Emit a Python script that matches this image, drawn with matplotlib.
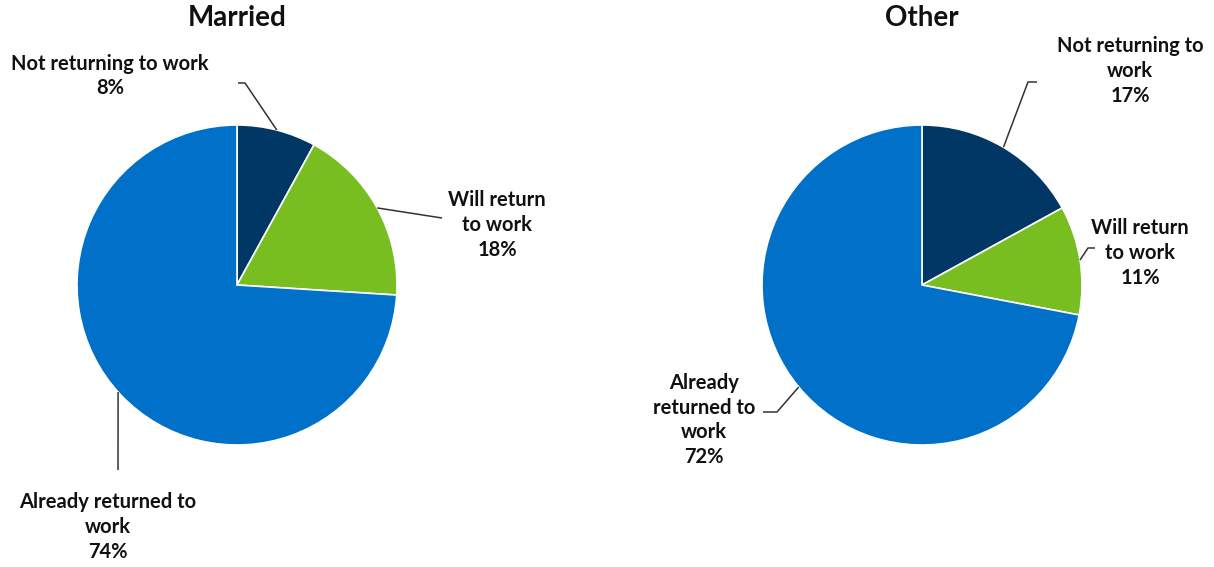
import numpy as np
import matplotlib.pyplot as plt

plt.rcParams['font.family'] = ['Lato', 'DejaVu Sans']

categories = ['Not returning to work', 'Will return to work', 'Already returned to work']
married = [8, 18, 74]
other = [17, 11, 72]
colors = ['#003764', '#78BE21', '#0070C9']

# label text (wrapped as in the chart) and percent appended from the values
married_labels = ['Not returning to work', 'Will return\nto work', 'Already returned to\nwork']
other_labels = ['Not returning to\nwork', 'Will return\nto work', 'Already\nreturned to\nwork']

W, H = 1214, 567
R = 160

fig = plt.figure(figsize=(W / 100, H / 100), dpi=100)
ax = fig.add_axes([0, 0, 1, 1])


def px(x, y):
    # pixel-style coords (y down) -> axes data coords (y up)
    return x, H - y


def wedge_point(values, i, cx, cy, angle=None):
    if angle is None:
        start = 90 - 360 * sum(values[:i]) / 100
        angle = start - 360 * values[i] / 200
    a = np.deg2rad(angle)
    return cx + R * np.cos(a), cy + R * np.sin(a)


def draw_pie(title, values, labels, cx, cy, layout):
    ax.pie(values, colors=colors, startangle=90, counterclock=False,
           center=px(cx, cy), radius=R,
           wedgeprops=dict(edgecolor='white', linewidth=1.2))
    ax.text(*px(cx, 18), title, ha='center', va='center',
            fontsize=20, fontweight='bold', color='#111111')
    for i, (lab, v) in enumerate(zip(labels, values)):
        tpos, knees, ang = layout[i]
        ax.text(*px(*tpos), f'{lab}\n{v}%', ha='center', va='center',
                multialignment='center', fontsize=14.5, fontweight='bold',
                linespacing=1.3, color='#111111')
        end = wedge_point(values, i, *px(cx, cy), angle=ang)
        pts = [px(*k) for k in knees] + [end]
        xs, ys = zip(*pts)
        ax.plot(xs, ys, color='#333333', lw=1.1, solid_capstyle='butt')


draw_pie('Married', married, married_labels, 237, 285, [
    ((110, 76), [(238, 83), (245, 83)], None),
    ((497, 225), [(442, 218)], None),
    ((108, 527), [(118, 470)], -138),
])
draw_pie('Other', other, other_labels, 922, 285, [
    ((1130, 71), [(1037, 82), (1028, 82)], None),
    ((1140, 253), [(1095, 248), (1088, 248)], None),
    ((704, 420), [(763, 412), (777, 412)], None),
])

ax.set_xlim(0, W)
ax.set_ylim(0, H)
ax.set_aspect('equal')
ax.axis('off')

fig.savefig('out.png', dpi=100, facecolor='white')
